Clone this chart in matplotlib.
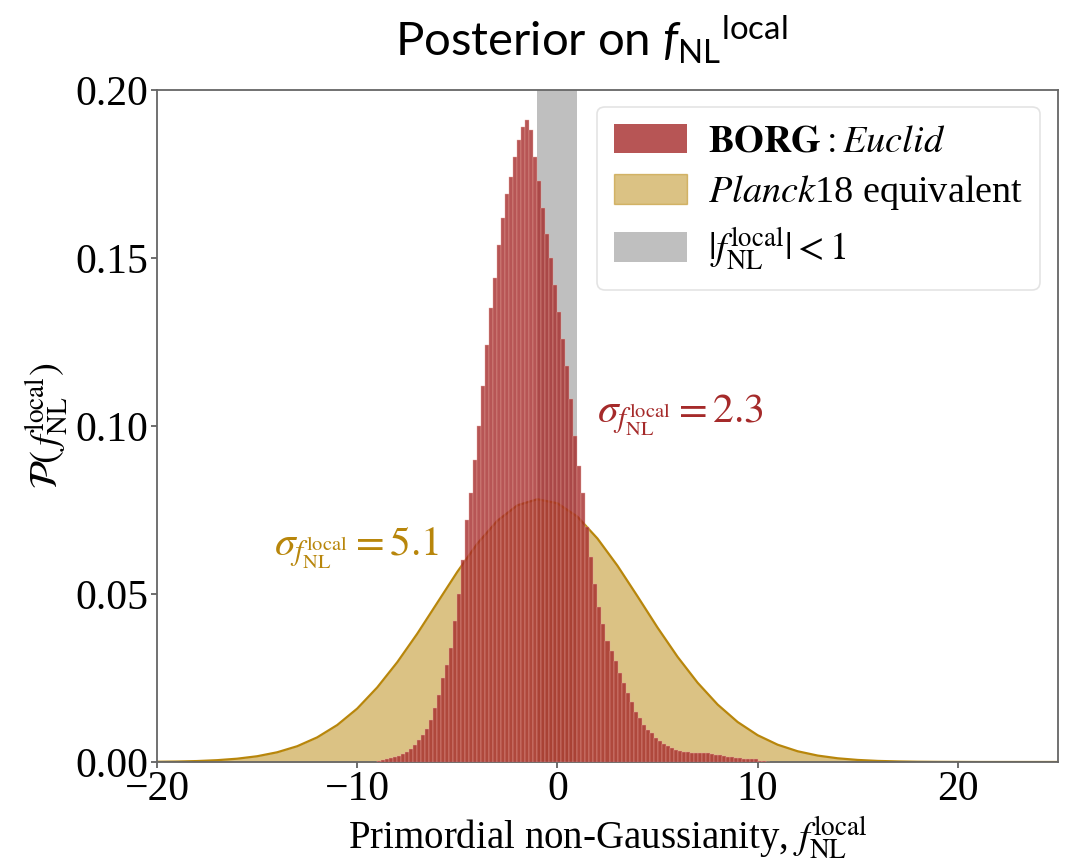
import numpy as np
import matplotlib
matplotlib.use("Agg")
import matplotlib.pyplot as plt
from matplotlib.patches import Patch

# ---------------- data ----------------
# BORG: Euclid posterior histogram (bin width 0.2, first bin starts at -9.0)
borg_bin_start = -9.0
borg_bin_width = 0.2
borg_heights = [
    0.0004, 0.0006, 0.0008, 0.0011, 0.0014, 0.0018, 0.0023, 0.0030, 0.0040, 0.0052,
    0.0065, 0.0080, 0.0098, 0.0125, 0.0160, 0.0200, 0.0250, 0.0290, 0.0340, 0.0420,
    0.0500, 0.0600, 0.0720, 0.0800, 0.0900, 0.1000, 0.1120, 0.1240, 0.1350, 0.1440,
    0.1540, 0.1620, 0.1690, 0.1740, 0.1800, 0.1850, 0.1890, 0.1910, 0.1880, 0.1800,
    0.1730, 0.1650, 0.1570, 0.1500, 0.1420, 0.1340, 0.1260, 0.1180, 0.1080, 0.0970,
    0.0880, 0.0800, 0.0700, 0.0610, 0.0530, 0.0460, 0.0410, 0.0360, 0.0330, 0.0300,
    0.0265, 0.0235, 0.0205, 0.0180, 0.0150, 0.0130, 0.0110, 0.0095, 0.0085, 0.0072,
    0.0062, 0.0055, 0.0048, 0.0042, 0.0036, 0.0032, 0.0030, 0.0029, 0.0028, 0.0028,
    0.0027, 0.0026, 0.0027, 0.0024, 0.0022, 0.0020, 0.0018, 0.0016, 0.0015, 0.0013,
    0.0012, 0.0010, 0.0009, 0.0008, 0.0010, 0.0004, 0.0002, 0.0001,
]

# Planck18-equivalent posterior curve, sampled at integer f_NL values
planck_x = list(range(-20, 26))
planck_y = [
    0.00007, 0.00014, 0.00028, 0.00054, 0.00098, 0.00171, 0.00289, 0.00469, 0.00733, 0.0110,
    0.0159, 0.0222, 0.0297, 0.0382, 0.0474, 0.0566, 0.0650, 0.0718, 0.0764, 0.0782,
    0.0770, 0.0730, 0.0665, 0.0584, 0.0493, 0.0400, 0.0313, 0.0236, 0.0171, 0.0119,
    0.00797, 0.00514, 0.00319, 0.00191, 0.00110, 0.00061, 0.00032, 0.00017, 0.00008, 0.00004,
    0.00002, 0.0, 0.0, 0.0, 0.0, 0.0,
]

band_lo, band_hi = -1.0, 1.0

sigma_borg = 2.3
sigma_planck = 5.1

x_ticks = [-20, -10, 0, 10, 20]
y_ticks = [0.00, 0.05, 0.10, 0.15, 0.20]

# ---------------- style ----------------
plt.rcParams['font.family'] = ['Liberation Serif', 'DejaVu Serif']
plt.rcParams['mathtext.fontset'] = 'stix'
plt.rcParams['mathtext.rm'] = 'Lato'
plt.rcParams['mathtext.it'] = 'Lato:italic'
plt.rcParams['mathtext.bf'] = 'Lato:bold'

c_red = 'brown'
c_gold = 'darkgoldenrod'

fig = plt.figure(figsize=(10.66, 8.61), dpi=100)
ax = fig.add_axes([157 / 1066, 1 - 762 / 861, (1058 - 157) / 1066, (762 - 90) / 861])

# gray band
ax.axvspan(band_lo, band_hi, color='gray', alpha=0.5, lw=0, zorder=1)

# Planck curve
ax.fill_between(planck_x, planck_y, 0, color=c_gold, alpha=0.5, lw=0, zorder=2)
ax.plot(planck_x, planck_y, color=c_gold, lw=1.6, zorder=2.5)

# BORG histogram
n = len(borg_heights)
edges = borg_bin_start + borg_bin_width * np.arange(n + 1)
ax.hist(edges[:-1], bins=edges, weights=borg_heights, facecolor=c_red, alpha=0.8,
        histtype='bar', rwidth=1.0, lw=0.35, edgecolor='#e8a8a0', zorder=3)

ax.set_xlim(-20, 25)
ax.set_ylim(0, 0.20)
ax.set_xticks(x_ticks)
ax.set_yticks(y_ticks)
ax.set_xticklabels([f"\u2212{abs(t)}" if t < 0 else f"{t}" for t in x_ticks])
ax.set_yticklabels([f"{t:.2f}" for t in y_ticks])
ax.tick_params(labelsize=30, length=4, width=1.2, color='#555555', pad=2)
for s in ax.spines.values():
    s.set_color('#666666')
    s.set_linewidth(1.3)

ax.set_xlabel(r"Primordial non-Gaussianity, $f_{\rm NL}^{\rm local}$", fontsize=28, labelpad=4)
ax.set_ylabel(r"$\mathcal{P}(\,f_{\rm NL}^{\rm local})$", fontsize=28, labelpad=3)

# annotations
ax.text(2.0, 0.1033, r"$\sigma_{f_{\rm NL}^{\rm local}} = %.1f$" % sigma_borg,
        color=c_red, fontsize=30, va='center', ha='left', zorder=5)
ax.text(-14.15, 0.0637, r"$\sigma_{f_{\rm NL}^{\rm local}} = %.1f$" % sigma_planck,
        color=c_gold, fontsize=30, va='center', ha='left', zorder=5)

handles = [
    Patch(facecolor=c_red, alpha=0.8, lw=0),
    Patch(facecolor=c_gold, alpha=0.5, edgecolor=c_gold, lw=1),
    Patch(facecolor='gray', alpha=0.5, lw=0),
]
labels = [
    r"$\mathbf{BORG}: \mathit{Euclid}$",
    r"$\mathit{Planck}$18 equivalent",
    r"$|f_{\rm NL}^{\rm local}| < 1$",
]
leg = ax.legend(handles, labels, loc='upper right', fontsize=27.5, frameon=True,
                handlelength=1.9, handleheight=0.8, borderpad=0.45, labelspacing=0.35,
                handletextpad=0.55, fancybox=True, borderaxespad=0,
                bbox_to_anchor=(0.98, 0.975))
leg.get_frame().set_edgecolor('#dddddd')
leg.get_frame().set_linewidth(1.2)

# title (sans, Calibri-like)
fig.text(591 / 1066, 1 - 40 / 861, r"Posterior on $f_{\rm NL}{}^{\rm local}$",
         fontsize=34, family='Lato', math_fontfamily='custom', ha='center', va='center')

fig.savefig("out.png", dpi=100)
